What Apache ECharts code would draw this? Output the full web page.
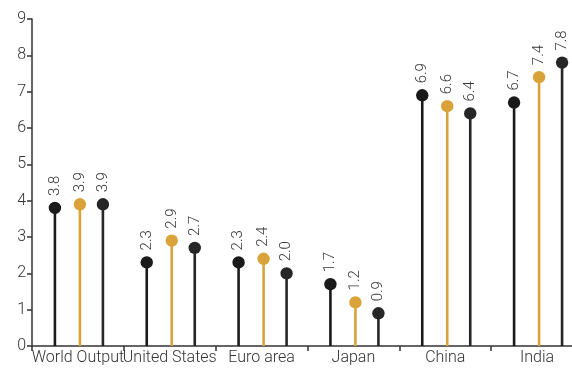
<!DOCTYPE html>
<html>
<head>
<meta charset="utf-8">
<script src="https://cdn.jsdelivr.net/npm/echarts@6/dist/echarts.min.js"></script>
<style>html,body{margin:0;padding:0;background:#fff;}#c{width:572px;height:369px;}</style>
</head>
<body>
<div id="c"></div>
<script>
const categories = ['World Output', 'United States', 'Euro area', 'Japan', 'China', 'India'];
const seriesA = [3.8, 2.3, 2.3, 1.7, 6.9, 6.7];
const seriesB = [3.9, 2.9, 2.4, 1.2, 6.6, 7.4];
const seriesC = [3.9, 2.7, 2.0, 0.9, 6.4, 7.8];
const yTicks = [0, 1, 2, 3, 4, 5, 6, 7, 8, 9];

const FONT = 'Roboto';

function makeSeries(name, values, color, offset) {
  return {
    name: name,
    type: 'custom',
    data: values.map((v, i) => [i, v]),
    encode: { x: 0, y: 1 },
    renderItem: function (params, api) {
      const cat = api.value(0);
      const v = api.value(1);
      const base = api.coord([cat, 0]);
      const top = api.coord([cat, v]);
      const x = base[0] + offset;
      return {
        type: 'group',
        children: [
          { type: 'line', shape: { x1: x, y1: base[1], x2: x, y2: top[1] },
            style: { stroke: color, lineWidth: 2.6 } },
          { type: 'circle', shape: { cx: x, cy: top[1], r: 6.2 },
            style: { fill: color } },
          { type: 'text', x: x, y: top[1] - 12, rotation: Math.PI / 2,
            style: { text: v.toFixed(1), fill: '#333', font: '300 15px ' + FONT,
                     align: 'left', verticalAlign: 'middle' } }
        ]
      };
    },
    z: 3
  };
}

const chart = echarts.init(document.getElementById('c'), null, { renderer: 'canvas' });
chart.setOption({
  animation: false,
  backgroundColor: '#fff',
  grid: { left: 32, top: 19, width: 551, bottom: 23, containLabel: false, outerBoundsMode: 'none' },
  xAxis: {
    type: 'category',
    data: categories,
    boundaryGap: true,
    axisLine: { lineStyle: { color: '#333', width: 1.5 } },
    axisTick: { show: true, length: 5, alignWithLabel: false, lineStyle: { color: '#333', width: 1.5 } },
    axisLabel: { interval: 0, color: '#333', fontSize: 16, fontWeight: 300, fontFamily: FONT, margin: 4, hideOverlap: false },
    splitLine: { show: false }
  },
  yAxis: {
    type: 'value',
    min: yTicks[0],
    max: yTicks[yTicks.length - 1],
    interval: 1,
    axisLine: { show: true, lineStyle: { color: '#333', width: 1.5 } },
    axisTick: { show: true, length: 5, lineStyle: { color: '#333', width: 1.5 } },
    axisLabel: { color: '#333', fontSize: 16, fontWeight: 300, fontFamily: FONT, margin: 6 },
    splitLine: { show: false }
  },
  series: [
    makeSeries('A', seriesA, '#1a1a1a', -23),
    makeSeries('B', seriesB, '#d9a33a', 2),
    makeSeries('C', seriesC, '#262626', 25)
  ]
});
</script>
</body>
</html>
